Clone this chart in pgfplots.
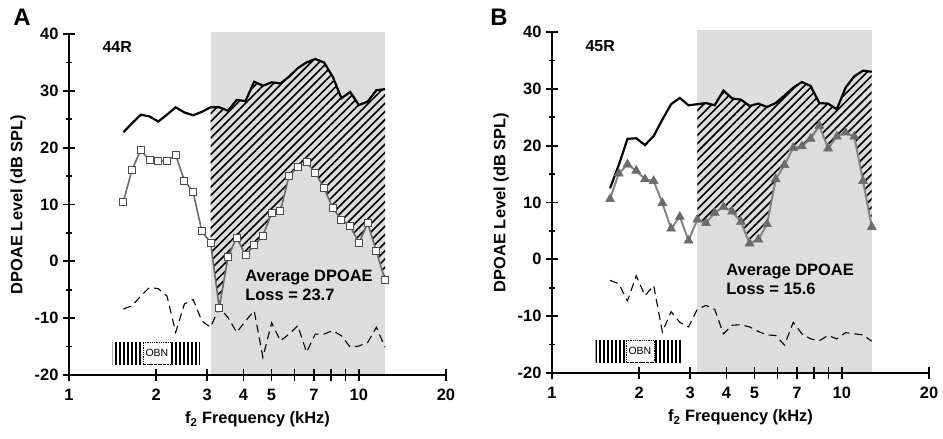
\documentclass[border=0pt]{standalone}
\usepackage{fontspec}
\setmainfont{Liberation Sans}
\usepackage{pgfplots}
\pgfplotsset{compat=1.18}
\usepackage{pgfplotstable}
\usetikzlibrary{patterns.meta}

\definecolor{shade}{gray}{0.865}
\definecolor{sqline}{gray}{0.42}
\definecolor{triline}{gray}{0.52}
\definecolor{trifill}{gray}{0.42}

% f (kHz), upper solid curve, measured DPOAE, noise floor
\pgfplotstableread{
f      top   dp    nf
1.540  22.7  10.5  -8.4
1.650  24.3  16.1  -7.8
1.769  25.8  19.6  -6.1
1.896  25.5  17.8  -4.6
2.032  24.6  17.7  -4.8
2.178  25.8  17.7  -6.1
2.334  27.1  18.7  -12.5
2.502  26.2  14.2  -7.5
2.681  25.7  12.2  -6.7
2.874  26.3   5.3  -10.5
3.080  27.1   3.3  -11.6
3.301  27.1  -8.2  -8.1
3.538  26.5   0.8  -9.9
3.792  28.4   4.2  -12.5
4.065  28.2   1.1  -10.5
4.356  31.6   2.8  -8.7
4.669  30.9   4.5  -16.9
5.004  31.5   8.5  -10.8
5.364  31.3   8.8  -14.0
5.749  32.5  15.1  -12.8
6.160  34.0  16.6  -11.3
6.603  35.0  17.4  -16.0
7.077  35.6  15.6  -12.8
7.585  35.0  12.9  -12.8
8.130  32.5   9.4  -12.2
8.713  28.7   7.3  -13.1
9.339  29.8   6.2  -15.1
10.009 27.5   3.2  -14.9
10.728 28.1   6.7  -14.3
11.498 30.1   1.8  -11.6
12.320 30.3  -3.3  -15.1
}\dataA

\pgfplotstableread{
f      top   dp    nf
1.586  12.5  10.6  -3.7
1.700  16.6  15.1  -4.3
1.822  21.2  16.7  -7.3
1.953  21.3  15.6  -2.9
2.093  20.1  14.1  -6.4
2.243  21.7  13.8  -4.6
2.404  24.6   9.9  -12.8
2.576  27.3   5.4  -9.2
2.761  28.4   7.5  -11.1
2.959  27.1   3.3  -11.9
3.172  27.3   7.0  -8.8
3.400  27.5   6.4  -8.1
3.643  27.1   8.2  -8.8
3.905  29.7   9.2  -13.1
4.185  28.3   8.4  -11.6
4.485  28.1   6.6  -11.5
4.807  27.0   2.8  -11.9
5.152  27.4   3.5  -12.7
5.522  26.8   6.2  -13.3
5.918  27.5  14.1  -13.4
6.343  28.8  16.6  -15.1
6.798  30.2  19.6  -11.1
7.286  31.2  19.9  -13.1
7.809  30.5  21.2  -14.0
8.369  27.5  23.5  -14.3
8.970  27.4  19.5  -13.4
9.613  26.4  21.6  -14.0
10.303 30.2  22.3  -12.9
11.042 32.2  21.6  -13.1
11.835 33.2  13.8  -13.3
12.688 33.0   5.7  -14.4
}\dataB

\pgfplotsset{
  every axis/.append style={
    width=377bp, height=341bp, scale only axis,
    xmode=log, xmin=1, xmax=20, ymin=-20, ymax=40,
    axis x line=bottom, axis y line=left,
    axis line style={-, line width=2bp},
    xtick={1,2,3,4,5,6,7,8,9,10,20},
    xticklabels={1,2,3,4,5,,7,,,10,20},
    minor xtick={},
    ytick={-20,-10,...,40},
    yticklabels={-20,-10,0,10,20,30,40},
    minor ytick={-15,-5,...,35},
    tick align=center, major tick length=12bp, minor tick length=6bp,
    tick style={line width=1.8bp, black},
    ticklabel style={font=\bfseries\fontsize{16.5}{19}\selectfont},
    xticklabel style={yshift=-5bp},
    yticklabel style={xshift=-1bp},
    label style={font=\bfseries\fontsize{16.5}{19}\selectfont},
    xlabel={f\textsubscript{2} Frequency (kHz)},
    ylabel={DPOAE Level (dB SPL)},
    xlabel style={yshift=-4bp},
    ylabel style={yshift=2bp},
    clip=false, axis on top,
  },
}
\tikzset{
  toplinestyle/.style={black, line width=2.2bp},
  noisestyle/.style={black, line width=1.1bp, dash pattern=on 8bp off 5bp},
  hatchfill/.style={draw=none, pattern={Lines[angle=45,distance=5.8bp,line width=1.6bp]}},
  obnfill/.style={draw=none, pattern={Lines[angle=90,distance=4bp,line width=1.8bp]}},
}

\begin{document}
\begin{tikzpicture}
\useasboundingbox (-69bp,-64bp) rectangle (874bp,375bp);

\begin{axis}
\addplot[fill=shade, draw=none] coordinates {(3.08,-20)(12.32,-20)(12.32,40.3)(3.08,40.3)} -- cycle;
% hatched loss area: upper curve 3-12 kHz, then the DPOAE back
\addplot[hatchfill] coordinates {
(3.080,27.1)(3.301,27.1)(3.538,26.5)(3.792,28.4)(4.065,28.2)(4.356,31.6)(4.669,30.9)
(5.004,31.5)(5.364,31.3)(5.749,32.5)(6.160,34.0)(6.603,35.0)(7.077,35.6)(7.585,35.0)
(8.130,32.5)(8.713,28.7)(9.339,29.8)(10.009,27.5)(10.728,28.1)(11.498,30.1)(12.320,30.3)
(12.320,-3.3)(11.498,1.8)(10.728,6.7)(10.009,3.2)(9.339,6.2)(8.713,7.3)(8.130,9.4)
(7.585,12.9)(7.077,15.6)(6.603,17.4)(6.160,16.6)(5.749,15.1)(5.364,8.8)(5.004,8.5)
(4.669,4.5)(4.356,2.8)(4.065,1.1)(3.792,4.2)(3.538,0.8)(3.301,-8.2)(3.080,3.3)} -- cycle;
\addplot[obnfill] coordinates {(1.414,-14.2)(2.83,-14.2)(2.83,-18.1)(1.414,-18.1)} -- cycle;
\addplot[fill=white, draw=black, line width=0.8bp, densely dotted] coordinates {(1.80,-14.2)(2.25,-14.2)(2.25,-18.1)(1.80,-18.1)} -- cycle;
\node[font=\fontsize{10.5}{11}\selectfont] at (axis cs:2.01,-16.15) {OBN};
\addplot[toplinestyle] table[x=f,y=top] {\dataA};
\addplot[noisestyle] table[x=f,y=nf] {\dataA};
\addplot[sqline, line width=1.6bp, mark=square*, mark size=3.5bp,
  mark options={solid, fill=white, draw=black!70, line width=0.9bp}] table[x=f,y=dp] {\dataA};
\node[anchor=west, font=\bfseries\fontsize{16}{18}\selectfont] at (axis cs:1.27,37.7) {44R};
\node[anchor=west, align=left, font=\bfseries\fontsize{16.5}{18.5}\selectfont] at (axis cs:3.95,-4.2) {Average DPOAE\\Loss = 23.7};
\end{axis}

\begin{axis}[at={(483bp,2bp)}]
\addplot[fill=shade, draw=none] coordinates {(3.172,-20)(12.688,-20)(12.688,40.3)(3.172,40.3)} -- cycle;
\addplot[hatchfill] coordinates {
(3.172,27.3)(3.400,27.5)(3.643,27.1)(3.905,29.7)(4.185,28.3)(4.485,28.1)(4.807,27.0)
(5.152,27.4)(5.522,26.8)(5.918,27.5)(6.343,28.8)(6.798,30.2)(7.286,31.2)(7.809,30.5)
(8.369,27.5)(8.970,27.4)(9.613,26.4)(10.303,30.2)(11.042,32.2)(11.835,33.2)(12.688,33.0)
(12.688,5.7)(11.835,13.8)(11.042,21.6)(10.303,22.3)(9.613,21.6)(8.970,19.5)(8.369,23.5)
(7.809,21.2)(7.286,19.9)(6.798,19.6)(6.343,16.6)(5.918,14.1)(5.522,6.2)(5.152,3.5)
(4.807,2.8)(4.485,6.6)(4.185,8.4)(3.905,9.2)(3.643,8.2)(3.400,6.4)(3.172,7.0)} -- cycle;
\addplot[obnfill] coordinates {(1.414,-14.2)(2.83,-14.2)(2.83,-18.1)(1.414,-18.1)} -- cycle;
\addplot[fill=white, draw=black, line width=0.8bp, densely dotted] coordinates {(1.80,-14.2)(2.25,-14.2)(2.25,-18.1)(1.80,-18.1)} -- cycle;
\node[font=\fontsize{10.5}{11}\selectfont] at (axis cs:2.01,-16.15) {OBN};
\addplot[toplinestyle] table[x=f,y=top] {\dataB};
\addplot[noisestyle] table[x=f,y=nf] {\dataB};
\addplot[triline, line width=2bp, mark=triangle*, mark size=5.2bp,
  mark options={solid, fill=trifill, draw=trifill, line width=0.5bp}] table[x=f,y=dp] {\dataB};
\node[anchor=west, font=\bfseries\fontsize{16}{18}\selectfont] at (axis cs:1.27,37.5) {45R};
\node[anchor=west, align=left, font=\bfseries\fontsize{16.5}{18.5}\selectfont] at (axis cs:3.89,-3.5) {Average DPOAE\\Loss = 15.6};
\end{axis}

\node[font=\bfseries\fontsize{24}{26}\selectfont] at (-47bp,358bp) {A};
\node[font=\bfseries\fontsize{24}{26}\selectfont] at (430bp,358bp) {B};
\end{tikzpicture}
\end{document}
